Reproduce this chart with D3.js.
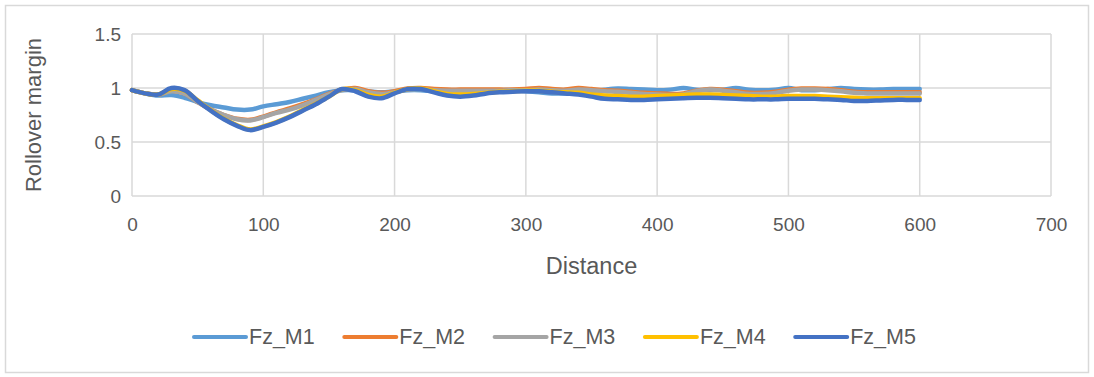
<!DOCTYPE html>
<html>
<head>
<meta charset="utf-8">
<script src="https://cdn.jsdelivr.net/npm/d3@7"></script>
<style>
  html, body { margin: 0; padding: 0; background: #fff; }
  svg { display: block; }
  text { font-family: "Liberation Sans", Arial, sans-serif; fill: #595959; }
</style>
</head>
<body>
<svg id="chart" width="1094" height="377"></svg>
<script>
// ---------- DATA ----------
const distance = d3.range(0, 601, 10);
const seriesNames = ["Fz_M1", "Fz_M2", "Fz_M3", "Fz_M4", "Fz_M5"];
const seriesColors = ["#5B9BD5", "#ED7D31", "#A5A5A5", "#FFC000", "#4472C4"];
const xTicks = [0, 100, 200, 300, 400, 500, 600, 700];
const yTicks = [0, 0.5, 1, 1.5];

const fzM1 = [0.98,0.95,0.93,0.935,0.91,0.87,0.84,0.82,0.80,0.80,
              0.83,0.85,0.87,0.90,0.93,0.96,0.98,0.98,0.97,0.96,
              0.97,0.98,0.98,0.97,0.97,0.97,0.97,0.975,0.98,0.98,
              0.97,0.96,0.95,0.95,0.955,0.97,0.985,0.995,0.99,0.985,
              0.98,0.985,1.0,0.985,0.98,0.985,1.0,0.985,0.98,0.985,
              1.0,0.98,0.98,0.99,1.0,0.99,0.985,0.985,0.99,0.99,0.99];
const fzM2 = [0.98,0.95,0.94,0.975,0.95,0.87,0.80,0.75,0.715,0.705,
              0.735,0.775,0.81,0.85,0.895,0.945,0.985,1.0,0.97,0.955,
              0.97,0.995,1.0,0.99,0.985,0.985,0.985,0.985,0.985,0.985,
              0.99,1.0,0.99,0.985,1.0,0.99,0.98,0.975,0.965,0.955,
              0.95,0.945,0.95,0.975,0.99,0.985,0.97,0.955,0.955,0.965,
              0.985,0.995,0.995,0.99,0.98,0.965,0.96,0.96,0.96,0.96,0.96];
const fzM3 = [0.98,0.95,0.94,0.97,0.95,0.87,0.80,0.75,0.71,0.70,
              0.73,0.77,0.80,0.84,0.89,0.94,0.98,0.99,0.96,0.945,
              0.96,0.985,0.99,0.98,0.975,0.975,0.975,0.975,0.975,0.98,
              0.98,0.985,0.98,0.975,0.985,0.98,0.97,0.965,0.955,0.945,
              0.94,0.935,0.94,0.97,0.985,0.975,0.96,0.945,0.945,0.955,
              0.975,0.985,0.985,0.98,0.97,0.955,0.95,0.95,0.95,0.95,0.95];
const fzM4 = [0.98,0.95,0.94,0.99,0.975,0.885,0.795,0.715,0.655,0.615,
              0.645,0.685,0.735,0.795,0.855,0.92,0.99,0.98,0.935,0.92,
              0.955,0.99,0.995,0.97,0.945,0.94,0.945,0.955,0.965,0.97,
              0.975,0.975,0.965,0.96,0.955,0.94,0.93,0.925,0.92,0.92,
              0.925,0.93,0.935,0.94,0.94,0.935,0.93,0.925,0.92,0.92,
              0.925,0.925,0.925,0.92,0.915,0.91,0.905,0.905,0.905,0.905,0.905];
const fzM5 = [0.98,0.95,0.94,1.0,0.98,0.88,0.79,0.71,0.65,0.61,
              0.64,0.68,0.73,0.79,0.85,0.92,0.99,0.97,0.92,0.905,
              0.95,0.99,0.99,0.96,0.93,0.92,0.93,0.95,0.96,0.965,
              0.97,0.97,0.96,0.95,0.94,0.92,0.90,0.895,0.89,0.89,
              0.895,0.90,0.905,0.91,0.91,0.905,0.90,0.895,0.895,0.895,
              0.90,0.90,0.90,0.895,0.89,0.88,0.88,0.885,0.89,0.89,0.89];
const seriesValues = [fzM1, fzM2, fzM3, fzM4, fzM5];

// ---------- LAYOUT ----------
const svg = d3.select("#chart");
const W = 1094, H = 377;
const plot = { left: 132, right: 1051, top: 34, bottom: 196 };

svg.append("rect")
  .attr("x", 5.5).attr("y", 5.5)
  .attr("width", W - 11).attr("height", H - 10)
  .attr("fill", "#fff").attr("stroke", "#d9d9d9").attr("stroke-width", 1.5);

const x = d3.scaleLinear().domain([0, 700]).range([plot.left, plot.right]);
const y = d3.scaleLinear().domain([0, 1.5]).range([plot.bottom, plot.top]);

// gridlines
const grid = svg.append("g");
grid.selectAll("line.h").data(yTicks).join("line")
  .attr("x1", plot.left).attr("x2", plot.right)
  .attr("y1", d => y(d)).attr("y2", d => y(d))
  .attr("stroke", "#d9d9d9").attr("stroke-width", 1.5);
grid.selectAll("line.v").data(xTicks).join("line")
  .attr("y1", plot.top).attr("y2", plot.bottom)
  .attr("x1", d => x(d)).attr("x2", d => x(d))
  .attr("stroke", "#d9d9d9").attr("stroke-width", 1.5);

// axes (labels only)
const xAxis = svg.append("g")
  .attr("transform", `translate(0,${plot.bottom})`)
  .call(d3.axisBottom(x).tickValues(xTicks).tickSize(0).tickPadding(22).tickFormat(d3.format("d")));
xAxis.select(".domain").remove();
xAxis.selectAll("text").style("font-size", "19px").attr("fill", "#595959");

const yAxis = svg.append("g")
  .attr("transform", `translate(${plot.left},0)`)
  .call(d3.axisLeft(y).tickValues(yTicks).tickSize(0).tickPadding(11).tickFormat(d => String(d)));
yAxis.select(".domain").remove();
yAxis.selectAll("text").style("font-size", "19px").attr("fill", "#595959");

// series
const line = d3.line()
  .x((d, i) => x(distance[i]))
  .y(d => y(d))
  .curve(d3.curveCatmullRom.alpha(0.5));

svg.append("g").selectAll("path").data(seriesValues).join("path")
  .attr("d", d => line(d))
  .attr("fill", "none")
  .attr("stroke", (d, i) => seriesColors[i])
  .attr("stroke-width", 4.5)
  .attr("stroke-linejoin", "round")
  .attr("stroke-linecap", "round");

// axis titles
svg.append("text")
  .attr("x", (plot.left + plot.right) / 2).attr("y", 266)
  .attr("text-anchor", "middle").attr("dominant-baseline", "central")
  .style("font-size", "23.5px").text("Distance");

svg.append("text")
  .attr("transform", `translate(33,${(plot.top + plot.bottom) / 2}) rotate(-90)`)
  .attr("text-anchor", "middle").attr("dominant-baseline", "central")
  .style("font-size", "22px").text("Rollover margin");

// legend
const legend = svg.append("g").attr("transform", "translate(194,337)");
const item = legend.selectAll("g").data(seriesNames).join("g")
  .attr("transform", (d, i) => `translate(${i * 150.3},0)`);
item.append("line")
  .attr("x1", 0).attr("x2", 52).attr("y1", 0).attr("y2", 0)
  .attr("stroke", (d, i) => seriesColors[i]).attr("stroke-width", 4)
  .attr("stroke-linecap", "round");
item.append("text")
  .attr("x", 55).attr("y", 0).attr("dominant-baseline", "central")
  .style("font-size", "21.5px").text(d => d);
</script>
</body>
</html>
